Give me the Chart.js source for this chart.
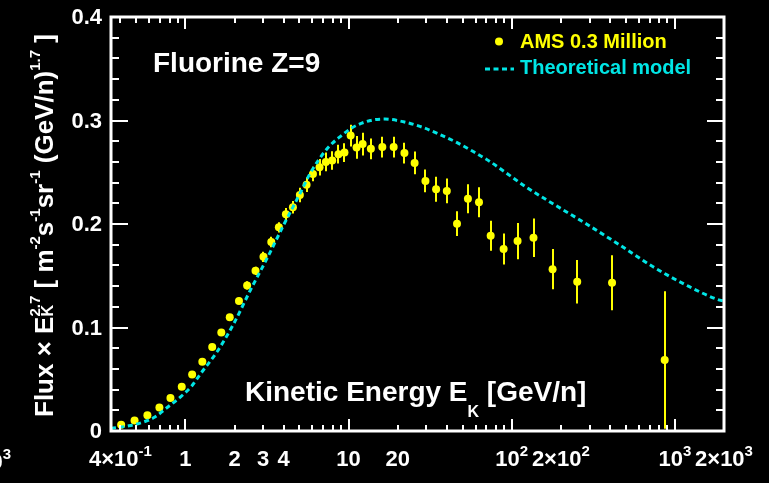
<!DOCTYPE html>
<html>
<head>
<meta charset="utf-8">
<script src="https://cdn.jsdelivr.net/npm/chart.js@4"></script>
<style>
  html, body { margin: 0; padding: 0; background: #000; }
  canvas { display: block; }
</style>
</head>
<body>
<canvas id="chart" width="769" height="483"></canvas>
<script>
// Fluorine flux x E_K^2.7 versus kinetic energy per nucleon (GeV/n)
const energies = [0.404, 0.488, 0.585, 0.693, 0.81, 0.95, 1.10, 1.27, 1.46, 1.66,
  1.87, 2.13, 2.39, 2.69, 3.01, 3.36, 3.74, 4.13, 4.56, 5.03,
  5.53, 6.05, 6.64, 7.26, 7.94, 8.67, 9.44, 10.3, 11.2, 12.2,
  13.7, 16.1, 18.9, 22.0, 25.4, 29.6, 34.4, 40.0, 46.2, 53.9,
  63.0, 74.3, 89.2, 108.6, 136, 178, 252, 412, 866];
const fluxValues = [0.0060, 0.0102, 0.0153, 0.0228, 0.0320, 0.0428, 0.0547, 0.0670, 0.0812, 0.0951,
  0.1100, 0.1257, 0.1406, 0.1548, 0.1683, 0.1826, 0.1968, 0.2094, 0.2162, 0.2280,
  0.2380, 0.2484, 0.2549, 0.2600, 0.2613, 0.2675, 0.2690, 0.2855, 0.2740, 0.2772,
  0.2726, 0.2743, 0.2743, 0.2685, 0.2590, 0.2416, 0.2336, 0.2320, 0.2003, 0.2245,
  0.2210, 0.1887, 0.1758, 0.1835, 0.1867, 0.1564, 0.1441, 0.1432, 0.0686];
const fluxErrors = [0.001, 0.001, 0.001, 0.001, 0.001, 0.0015, 0.0015, 0.002, 0.002, 0.002,
  0.003, 0.003, 0.004, 0.004, 0.005, 0.005, 0.005, 0.006, 0.006, 0.007,
  0.007, 0.007, 0.008, 0.009, 0.009, 0.009, 0.009, 0.0105, 0.011, 0.011,
  0.010, 0.010, 0.010, 0.010, 0.011, 0.011, 0.012, 0.012, 0.012, 0.014,
  0.0145, 0.0145, 0.015, 0.0175, 0.0185, 0.0195, 0.021, 0.0265, 0.0665];

// Theoretical model curve
const modelEnergies = [0.35, 0.45, 0.55, 0.65, 0.77, 0.93, 1.1, 1.24, 1.56, 1.98,
  2.5, 3.16, 4.0, 5.06, 5.82, 7.36, 8.89, 10.7, 13.6, 16.7,
  21.7, 27.4, 34.7, 46.0, 58.1, 73.6, 93.0, 123, 164, 287,
  459, 735, 1175, 1880, 2000];
const modelValues = [0.0025, 0.0050, 0.0085, 0.0135, 0.0225, 0.0327, 0.0440, 0.0554, 0.0763, 0.1038,
  0.1360, 0.1665, 0.1990, 0.2300, 0.2490, 0.2725, 0.2845, 0.2937, 0.3000, 0.3014,
  0.2988, 0.2943, 0.2878, 0.2788, 0.2700, 0.2603, 0.2491, 0.2355, 0.2232, 0.2000,
  0.1797, 0.1587, 0.1409, 0.1264, 0.1255];

// Axes
const xRange = [0.35, 2000];
const yRange = [0, 0.4];
const xTickValues = [0.4, 1, 2, 3, 4, 10, 20, 100, 200, 1000, 2000];
const xTickBase = ['4×10', '1', '2', '3', '4', '10', '20', '10', '2×10', '10', '2×10'];
const xTickSup = ['-1', '', '', '', '', '', '', '2', '2', '3', '3'];
const yTickValues = [0, 0.1, 0.2, 0.3, 0.4];
const yTickLabels = ['0', '0.1', '0.2', '0.3', '0.4'];

const seriesNames = ['AMS 0.3 Million', 'Theoretical model'];
const panelTitle = 'Fluorine Z=9';

const YELLOW = '#ffff00';
const CYAN = '#00e5e5';
const WHITE = '#ffffff';
const FAMILY = '"Liberation Sans", Arial, Helvetica, sans-serif';
const DASH = [5, 3.5];

function font(px) { return 'bold ' + px + 'px ' + FAMILY; }

// parts: {text, size, dy} or {stack:[part, part]}
function partWidth(ctx, p) {
  if (p.stack) return Math.max(...p.stack.map(q => partWidth(ctx, q)));
  ctx.font = font(p.size);
  return ctx.measureText(p.text).width;
}
function richWidth(ctx, parts) {
  return parts.reduce((w, p) => w + partWidth(ctx, p), 0);
}
function drawRich(ctx, parts, x, y, color) {
  ctx.fillStyle = color;
  ctx.textAlign = 'left';
  ctx.textBaseline = 'alphabetic';
  let cx = x;
  for (const p of parts) {
    const list = p.stack ? p.stack : [p];
    for (const q of list) {
      ctx.font = font(q.size);
      ctx.fillText(q.text, cx, y + (q.dy || 0));
    }
    cx += partWidth(ctx, p);
  }
}

const decorations = {
  id: 'decorations',
  beforeDraw(chart) {
    const ctx = chart.ctx;
    ctx.save();
    ctx.fillStyle = '#000';
    ctx.fillRect(0, 0, chart.width, chart.height);
    ctx.restore();
  },
  beforeDatasetsDraw(chart) {
    // error bars of the AMS points
    const ctx = chart.ctx, xs = chart.scales.x, ys = chart.scales.y, a = chart.chartArea;
    ctx.save();
    ctx.beginPath();
    ctx.rect(a.left, a.top, a.right - a.left, a.bottom - a.top);
    ctx.clip();
    ctx.strokeStyle = YELLOW;
    ctx.lineWidth = 2;
    ctx.beginPath();
    energies.forEach((e, i) => {
      const px = Math.round(xs.getPixelForValue(e));
      ctx.moveTo(px, ys.getPixelForValue(fluxValues[i] - fluxErrors[i]));
      ctx.lineTo(px, ys.getPixelForValue(fluxValues[i] + fluxErrors[i]));
    });
    ctx.stroke();
    ctx.restore();
  },
  afterDraw(chart) {
    const ctx = chart.ctx, xs = chart.scales.x, ys = chart.scales.y, a = chart.chartArea;
    ctx.save();
    // frame
    ctx.strokeStyle = WHITE;
    ctx.lineWidth = 3;
    ctx.strokeRect(a.left, a.top, a.right - a.left, a.bottom - a.top);

    // x ticks (inside, bottom and top)
    ctx.lineWidth = 2;
    ctx.beginPath();
    for (let d = -1; d <= 3; d++) {
      for (let k = 1; k <= 9; k++) {
        const v = k * Math.pow(10, d);
        if (v < xRange[0] || v > xRange[1]) continue;
        const px = Math.round(xs.getPixelForValue(v));
        const len = k === 1 ? 12 : 6;
        ctx.moveTo(px, a.bottom); ctx.lineTo(px, a.bottom - len);
        ctx.moveTo(px, a.top); ctx.lineTo(px, a.top + len);
      }
    }
    // y ticks (inside, left and right)
    for (let i = 0; i <= 20; i++) {
      const v = yRange[0] + i * 0.02;
      const py = Math.round(ys.getPixelForValue(v));
      const len = i % 5 === 0 ? 17 : 8;
      ctx.moveTo(a.left, py); ctx.lineTo(a.left + len, py);
      ctx.moveTo(a.right, py); ctx.lineTo(a.right - len, py);
    }
    ctx.stroke();

    // y tick labels
    ctx.fillStyle = WHITE;
    ctx.font = font(22);
    ctx.textAlign = 'right';
    ctx.textBaseline = 'middle';
    yTickValues.forEach((v, i) => {
      ctx.fillText(yTickLabels[i], 102, ys.getPixelForValue(v) + 1);
    });

    // x tick labels
    xTickValues.forEach((v, i) => {
      const parts = [{ text: xTickBase[i], size: 22 }];
      if (xTickSup[i]) parts.push({ text: xTickSup[i], size: 15, dy: -10 });
      const w = richWidth(ctx, parts);
      drawRich(ctx, parts, xs.getPixelForValue(v) - w / 2, 466, WHITE);
    });
    // clipped label at the left border
    {
      const parts = [{ text: '10', size: 22 }, { text: '3', size: 15, dy: -10 }];
      const w = richWidth(ctx, parts);
      drawRich(ctx, parts, 11 - w, 469, WHITE);
    }

    // x axis title
    drawRich(ctx, [
      { text: 'Kinetic Energy E', size: 28 },
      { text: 'K', size: 16, dy: 16 },
      { text: ' [GeV/n]', size: 28 }
    ], 245, 401, WHITE);

    // y axis title (rotated)
    ctx.save();
    ctx.translate(53, 417);
    ctx.rotate(-Math.PI / 2);
    drawRich(ctx, [
      { text: 'Flux × E', size: 26 },
      { stack: [{ text: '2.7', size: 15, dy: -13 }, { text: 'K', size: 16, dy: 0 }] },
      { text: ' [ m', size: 26 },
      { text: '-2', size: 15, dy: -13 },
      { text: 's', size: 26 },
      { text: '-1', size: 15, dy: -13 },
      { text: 'sr', size: 26 },
      { text: '-1', size: 15, dy: -13 },
      { text: ' (GeV/n)', size: 26 },
      { text: '1.7', size: 15, dy: -13 },
      { text: ' ]', size: 26 }
    ], 0, 0, WHITE);
    ctx.restore();

    // panel title
    drawRich(ctx, [{ text: panelTitle, size: 28 }], 153, 72, WHITE);

    // legend
    ctx.fillStyle = YELLOW;
    ctx.beginPath();
    ctx.arc(499, 41.5, 4, 0, Math.PI * 2);
    ctx.fill();
    ctx.font = font(20);
    ctx.textAlign = 'left';
    ctx.textBaseline = 'middle';
    ctx.fillText(seriesNames[0], 520, 42);
    ctx.strokeStyle = CYAN;
    ctx.lineWidth = 3;
    ctx.setLineDash(DASH);
    ctx.beginPath();
    ctx.moveTo(485, 69); ctx.lineTo(514, 69);
    ctx.stroke();
    ctx.setLineDash([]);
    ctx.fillStyle = CYAN;
    ctx.fillText(seriesNames[1], 520, 68);
    ctx.restore();
  }
};

new Chart(document.getElementById('chart'), {
  type: 'scatter',
  data: {
    datasets: [
      {
        label: seriesNames[1],
        data: modelEnergies.map((e, i) => ({ x: e, y: modelValues[i] })),
        showLine: true,
        borderColor: CYAN,
        borderWidth: 3,
        borderDash: DASH,
        pointRadius: 0,
        cubicInterpolationMode: 'monotone',
        fill: false
      },
      {
        label: seriesNames[0],
        data: energies.map((e, i) => ({ x: e, y: fluxValues[i] })),
        backgroundColor: YELLOW,
        borderWidth: 0,
        pointRadius: 4,
        pointHoverRadius: 4
      }
    ]
  },
  options: {
    responsive: false,
    animation: false,
    devicePixelRatio: 1,
    layout: { padding: { left: 111, right: 45, top: 17, bottom: 52 } },
    plugins: { legend: { display: false }, tooltip: { enabled: false } },
    scales: {
      x: { type: 'logarithmic', min: xRange[0], max: xRange[1], display: false },
      y: { type: 'linear', min: yRange[0], max: yRange[1], display: false }
    }
  },
  plugins: [decorations]
});
</script>
</body>
</html>
